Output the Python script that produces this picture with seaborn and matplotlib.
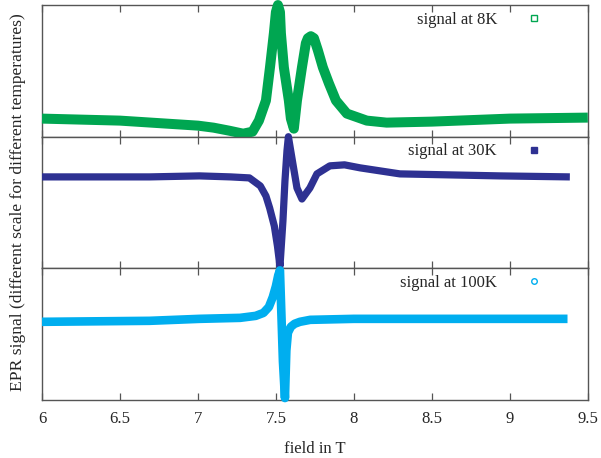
import numpy as np
import pandas as pd
import matplotlib
matplotlib.use("Agg")
import matplotlib.pyplot as plt
import seaborn as sns
from matplotlib.lines import Line2D

# EPR signal (arbitrary units, own scale per temperature)
field_8K = [6.0, 6.5, 7.0, 7.1, 7.2, 7.29, 7.35, 7.391, 7.436, 7.462, 7.487, 7.5, 7.513,
            7.526, 7.532, 7.551, 7.583, 7.596, 7.615, 7.635, 7.667, 7.692, 7.705, 7.724,
            7.744, 7.769, 7.801, 7.840, 7.885, 7.955, 8.083, 8.21, 8.5, 9.0, 9.5]
signal_8K = [18, 16, 11, 9, 6, 3, 5, 16, 36, 69, 103, 124, 131,
             124, 103, 69, 36, 18, 8, 36, 69, 93, 98, 100,
             98, 86, 69, 53, 36, 23, 16, 14, 15, 18, 19]

field_30K = [6.0, 6.69, 7.01, 7.21, 7.33, 7.40, 7.436, 7.46, 7.49, 7.51, 7.526, 7.545, 7.558,
             7.571, 7.58, 7.609, 7.635, 7.667, 7.718, 7.763, 7.846, 7.94, 8.04, 8.295,
             8.615, 8.936, 9.385]
signal_30K = [0, 0, 1, 0, -1, -9, -19, -31, -49, -69, -89, -44, -4,
              26, 40, 13, -11, -22, -11, 3, 11, 12, 9, 3,
              2, 1, 0]

field_100K = [6.0, 6.69, 7.01, 7.27, 7.37, 7.42, 7.455, 7.48, 7.50, 7.515, 7.526, 7.545, 7.558,
              7.567, 7.577, 7.596, 7.62, 7.654, 7.72, 8.0, 9.37]
signal_100K = [0, 1, 3, 4, 6, 9, 15, 25, 36, 47, 52, -40, -77,
               -29, -11, -5, -2, 0, 2, 3, 3]

labels = ["signal at 8K", "signal at 30K", "signal at 100K"]
colors = ["#00a651", "#2e3192", "#00aeef"]

sns.set_style("ticks")
plt.rcParams["font.family"] = ["Liberation Serif", "DejaVu Serif"]
plt.rcParams["font.size"] = 12

fig, axes = plt.subplots(3, 1, figsize=(6.01, 4.58), dpi=100, sharex=True)
fig.subplots_adjust(left=0.0699, right=0.978, top=0.989, bottom=0.1266, hspace=0)

series = [(field_8K, signal_8K, 7.2, (0, 131)),
          (field_30K, signal_30K, 5.2, (-91, 40)),
          (field_100K, signal_100K, 6.2, (-79, 54))]
markers = [dict(marker="s", markerfacecolor="none"),
           dict(marker="s"),
           dict(marker="o", markerfacecolor="none")]

for ax, (x, y, lw, lim), lab, col, mk in zip(axes, series, labels, colors, markers):
    df = pd.DataFrame({"field": x, "signal": y})
    sns.lineplot(data=df, x="field", y="signal", ax=ax, color=col, linewidth=lw,
                 estimator=None, sort=False, clip_on=False, solid_capstyle="butt",
                 solid_joinstyle="round", zorder=3)
    ax.set_ylim(*lim)
    ax.set_xlim(6, 9.5)
    ax.set_yticks([])
    ax.set_ylabel("")
    ax.set_xlabel("")
    for s in ax.spines.values():
        s.set_visible(True)
        s.set_color("#555555")
        s.set_linewidth(1.0)
    ax.tick_params(axis="x", direction="in", top=True, bottom=True, length=5,
                   color="#555555", width=0.9, labelsize=12, pad=8)
    h = Line2D([], [], linestyle="none", color=col, markersize=4, markeredgewidth=1.0, **mk)
    ax.legend([h], [lab], loc="upper right", bbox_to_anchor=(0.956, 1.0), frameon=False,
              markerfirst=False, handlelength=2.8, handletextpad=0.8, borderaxespad=0,
              fontsize=12)

axes[-1].set_xticks(np.arange(6, 9.51, 0.5))
axes[-1].set_xticklabels(["6", "6.5", "7", "7.5", "8", "8.5", "9", "9.5"])
axes[-1].set_xlabel("field in T", fontsize=12, labelpad=10)
fig.text(18 / 601, 1 - 202 / 458, "EPR signal (different scale for different temperatures)",
         rotation=90, ha="center", va="center", fontsize=12.6)

fig.savefig("out.png", dpi=100)
